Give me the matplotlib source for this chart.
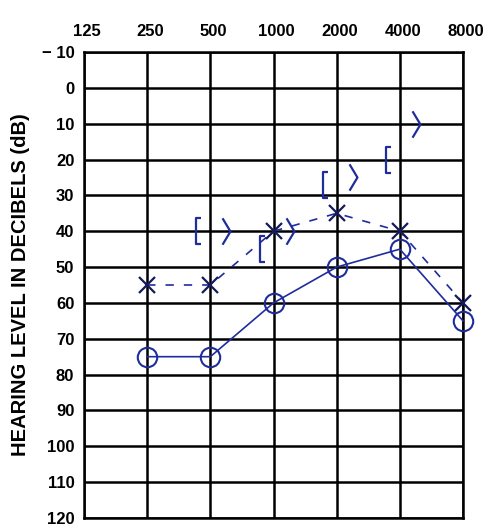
import matplotlib
matplotlib.use("Agg")
import matplotlib.pyplot as plt
from matplotlib.path import Path
from matplotlib.transforms import offset_copy, ScaledTranslation

# ---- data ----
freqs = [250, 500, 1000, 2000, 4000, 8000]
right_air = [75, 75, 60, 50, 45, 65]      # O
left_air = [55, 55, 40, 35, 40, 60]       # X
bone_freqs = [500, 1000, 2000, 4000]
right_bone = [40, 45, 27, 20]             # [
left_bone = [40, 40, 25, 10]              # >
x_ticks = [125, 250, 500, 1000, 2000, 4000, 8000]
x_labels = ["125", "250", "500", "1000", "2000", "4000", "8000"]
y_ticks = list(range(-10, 121, 10))
y_labels = ["\u2212 10"] + [str(v) for v in y_ticks[1:]]

plt.rcParams['font.family'] = ['Liberation Sans', 'DejaVu Sans']

fig = plt.figure(figsize=(4.9, 5.32), dpi=100)
ax = fig.add_axes([84/490, 1-518/532, (463-84)/490, (518-52)/532])
ax.set_xscale('log', base=2)
ax.set_xlim(125, 8000)
ax.set_ylim(120, -10)
ax.set_xticks(x_ticks)
ax.set_xticklabels(x_labels)
ax.set_yticks(y_ticks)
ax.set_yticklabels(y_labels)
ax.minorticks_off()
ax.xaxis.tick_top()
ax.tick_params(axis='both', length=0, labelsize=12)
ax.tick_params(axis='x', pad=9)
ax.tick_params(axis='y', pad=7)
shift = ScaledTranslation(3/100, 0, fig.dpi_scale_trans)
for lab in ax.get_xticklabels():
    lab.set_fontweight('bold')
    lab.set_transform(lab.get_transform() + shift)
for lab in ax.get_yticklabels():
    lab.set_fontweight('bold')
ax.grid(True, color='black', lw=1.8)
ax.set_axisbelow(True)
for s in ax.spines.values():
    s.set_linewidth(1.8)
    s.set_color('black')

ax.set_ylabel("HEARING LEVEL IN DECIBELS (dB)", fontsize=14.5, fontweight='bold', labelpad=8)

blue = '#1f2d9c'
navy = '#151a5a'

ax.plot(freqs, right_air, color=blue, lw=1.2, ls='-', marker='o', ms=14,
        mfc='none', mec=blue, mew=1.5, zorder=3, clip_on=False)
ax.plot(freqs, left_air, color=blue, lw=1.2, ls=(0, (5, 6)), marker='x', ms=12,
        mec=navy, mew=1.6, zorder=3, clip_on=False)

bracket = Path([(0.4, 1), (0, 1), (0, -1), (0.4, -1)],
               [Path.MOVETO, Path.LINETO, Path.LINETO, Path.LINETO])
chevron = Path([(-0.3, 1), (0.3, 0), (-0.3, -1)],
               [Path.MOVETO, Path.LINETO, Path.LINETO])
tr_left = offset_copy(ax.transData, fig=fig, x=-14, y=0, units='dots')
tr_right = offset_copy(ax.transData, fig=fig, x=16, y=0, units='dots')
ax.plot(bone_freqs, right_bone, ls='none', marker=bracket, ms=19, mfc='none',
        mec=blue, mew=1.6, transform=tr_left, zorder=3)
ax.plot(bone_freqs, left_bone, ls='none', marker=chevron, ms=19, mfc='none',
        mec=blue, mew=1.6, transform=tr_right, zorder=3)

fig.savefig("out.png", dpi=100)
